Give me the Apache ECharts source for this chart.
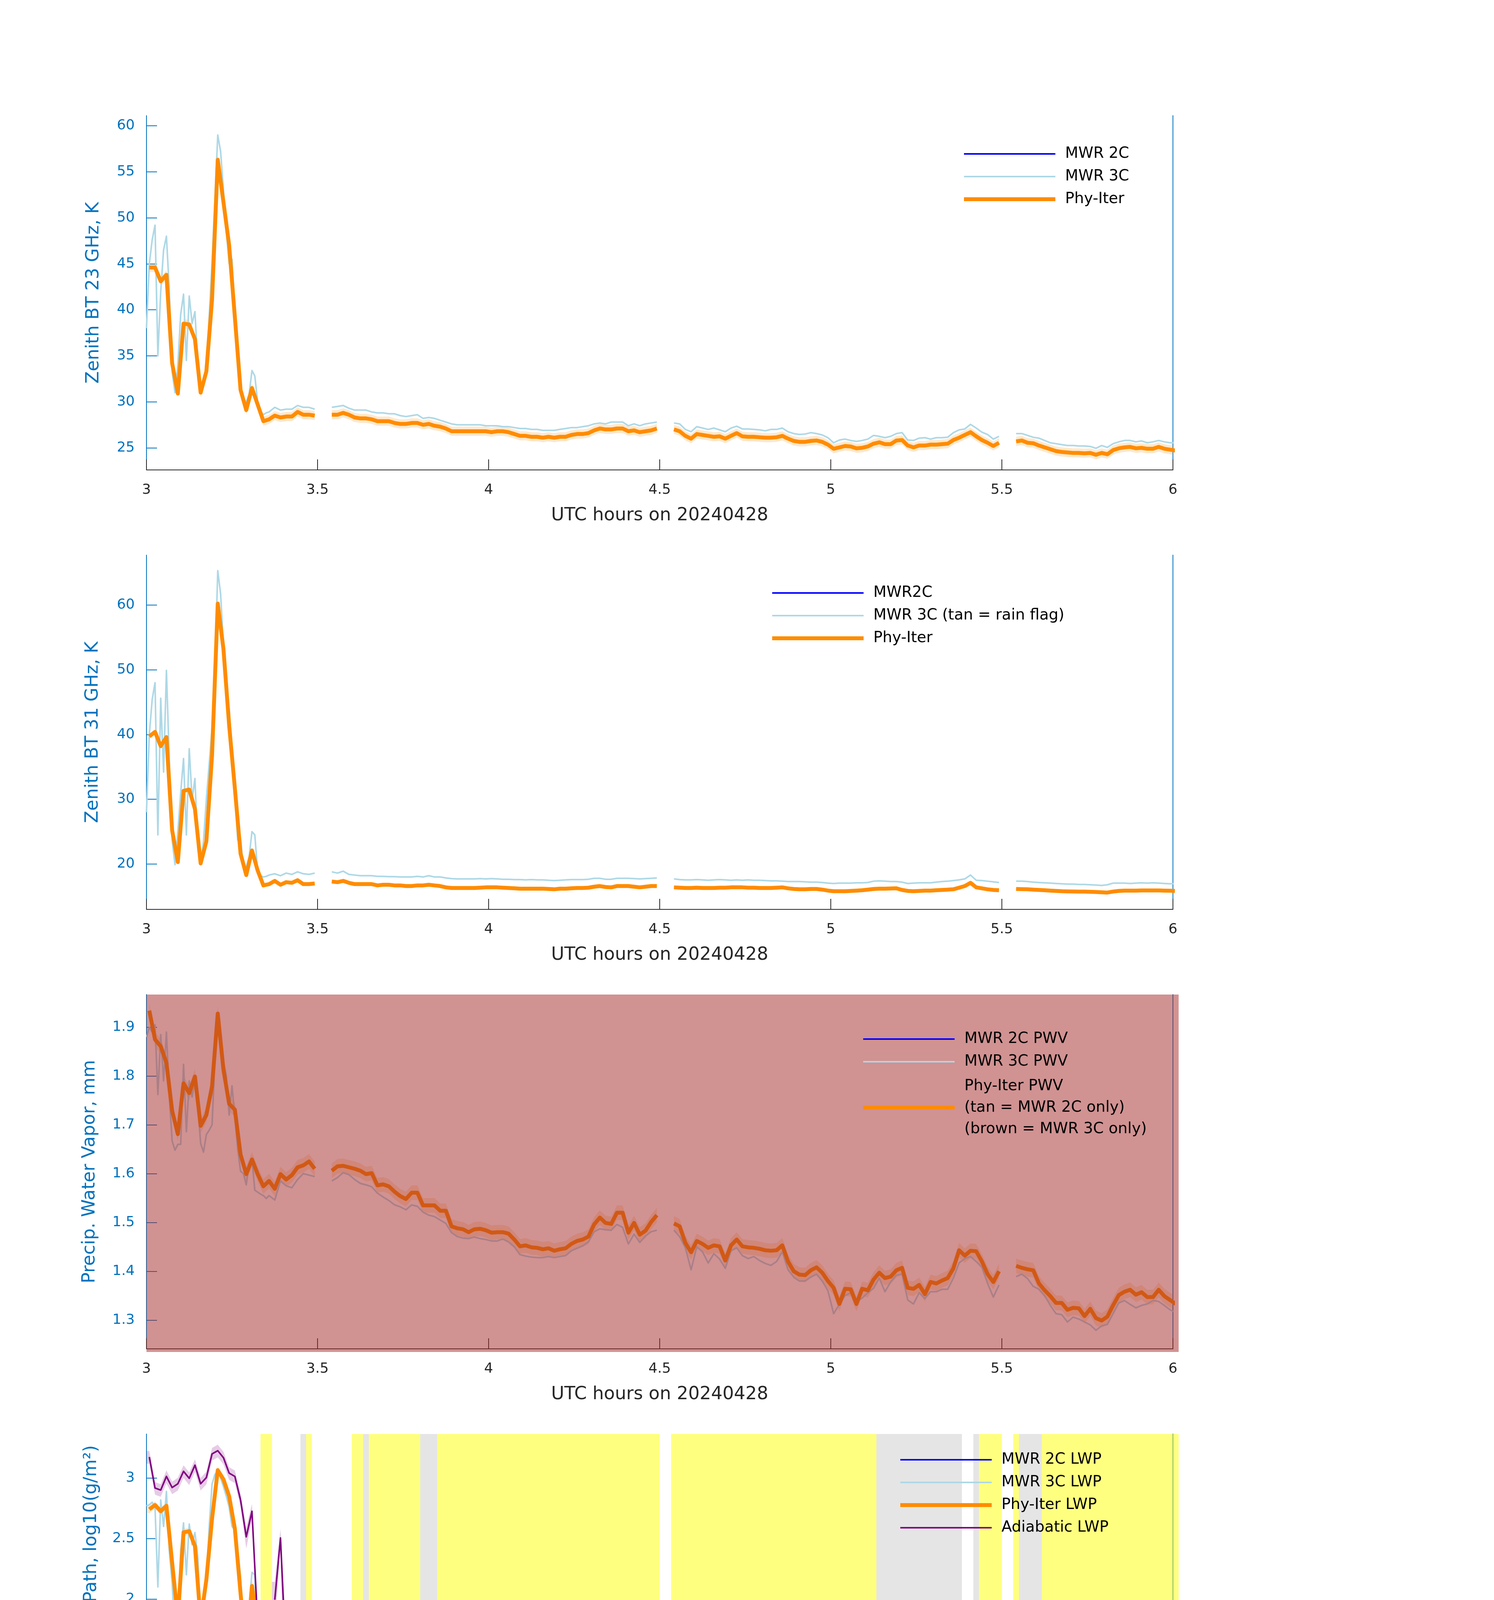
<!DOCTYPE html>
<html>
<head>
<meta charset="utf-8">
<script src="https://cdn.jsdelivr.net/npm/echarts@6/dist/echarts.min.js"></script>
<style>
html, body { margin: 0; padding: 0; background: #fff; }
#main { width: 3825px; height: 6000px; }
</style>
</head>
<body>
<div id="main"></div>
<script>
// ---------- data (1-minute samples, t = 3 + (i+0.5)/60) ----------
var nMin = 181;

// Phy-Iter 23 GHz brightness temperature, K
var bt23Phy = [
 44.6,44.6,43.1,43.8,34.2,30.9,38.5,38.4,36.8,31.0,
 33.3,41.1,56.3,51.7,47.0,39.2,31.3,29.1,31.5,29.7,
 27.9,28.1,28.5,28.3,28.4,28.4,28.9,28.6,28.6,28.5,
 null,null,28.6,28.6,28.8,28.6,28.3,28.2,28.2,28.1,
 27.9,27.9,27.9,27.7,27.6,27.6,27.7,27.7,27.5,27.6,
 27.4,27.3,27.1,26.8,26.8,26.8,26.8,26.8,26.8,26.8,
 26.7,26.8,26.8,26.7,26.5,26.3,26.3,26.2,26.2,26.1,
 26.2,26.1,26.2,26.2,26.4,26.5,26.5,26.6,26.9,27.1,
 27.0,27.0,27.1,27.1,26.8,26.9,26.7,26.8,26.9,27.1,
 null,null,27.0,26.8,26.3,26.0,26.5,26.4,26.3,26.2,
 26.25,26.0,26.3,26.6,26.25,26.2,26.2,26.15,26.1,26.1,
 26.15,26.3,26.0,25.75,25.65,25.65,25.75,25.8,25.65,25.35,
 24.9,25.05,25.2,25.15,24.95,25.0,25.15,25.45,25.6,25.4,
 25.4,25.8,25.85,25.25,25.05,25.25,25.25,25.35,25.35,25.4,
 25.45,25.85,26.1,26.4,26.7,26.25,25.85,25.55,25.2,25.55,
 null,null,25.7,25.8,25.55,25.5,25.25,25.05,24.85,24.65,
 24.55,24.5,24.45,24.45,24.4,24.45,24.25,24.45,24.3,24.75,
 24.95,25.05,25.1,24.95,25.0,24.9,24.9,25.1,24.9,24.8,
 24.7];

// MWR 3C series: 43 half-minute samples (3.000 .. 3.350), then minutes i = 21 .. 180
var bt23Mwr3c = [
 38,45.0,47.6,49.2,35.0,42,46.5,48,42.2,33.3,
 31.0,34,39.5,41.7,34.5,41.5,38.5,39.8,34,31.2,
 32,33.5,39.2,45.2,52,59.0,57.2,53,48.5,45,
 45.5,39.5,35,31.2,30.3,30.0,30.8,33.4,32.8,30.0,
 29.0,28.6,28.8,
 28.9,29.4,29.1,29.2,29.2,29.6,29.4,29.4,29.2,
 null,null,29.4,29.5,29.6,29.3,29.1,29.1,29.1,28.9,
 28.8,28.8,28.7,28.7,28.5,28.4,28.5,28.6,28.2,28.3,
 28.2,28.0,27.8,27.6,27.5,27.5,27.5,27.5,27.5,27.4,
 27.4,27.4,27.3,27.3,27.2,27.1,27.1,27.0,27.0,26.9,
 26.9,26.9,27.0,27.1,27.2,27.2,27.3,27.4,27.6,27.7,
 27.6,27.8,27.8,27.8,27.4,27.6,27.4,27.6,27.7,27.8,
 null,null,27.7,27.6,27.0,26.75,27.3,27.15,27.0,27.15,
 26.95,26.75,27.15,27.35,27.05,27.05,27.0,26.95,26.85,27.0,
 27.0,27.15,26.75,26.55,26.45,26.5,26.65,26.55,26.4,26.1,
 25.55,25.85,25.95,25.8,25.7,25.8,25.95,26.35,26.25,26.1,
 26.25,26.55,26.65,25.85,25.8,26.05,26.1,25.95,26.1,26.1,
 26.15,26.65,26.95,27.05,27.55,27.15,26.7,26.45,25.95,26.25,
 null,null,26.55,26.55,26.35,26.15,26.05,25.8,25.55,25.45,
 25.35,25.25,25.25,25.2,25.2,25.15,24.95,25.25,25.05,25.45,
 25.65,25.8,25.8,25.65,25.75,25.55,25.65,25.8,25.65,25.55,
 25.55];

// Phy-Iter 31 GHz brightness temperature, K
var bt31Phy = [
 39.7,40.4,38.2,39.6,25.2,20.3,31.3,31.5,28.5,20.1,
 23.5,36.8,60.2,53.2,41.4,31.7,21.6,18.3,22.1,19.0,
 16.7,16.9,17.4,16.8,17.2,17.1,17.5,16.9,16.9,17.0,
 null,null,17.3,17.2,17.4,17.1,16.9,16.9,16.9,16.9,
 16.7,16.8,16.8,16.7,16.7,16.6,16.6,16.7,16.7,16.8,
 16.7,16.6,16.4,16.3,16.3,16.3,16.3,16.3,16.35,16.4,
 16.4,16.4,16.35,16.3,16.25,16.2,16.2,16.2,16.2,16.2,
 16.15,16.1,16.2,16.2,16.25,16.3,16.3,16.35,16.5,16.6,
 16.45,16.4,16.6,16.6,16.6,16.5,16.4,16.5,16.6,16.6,
 null,null,16.4,16.35,16.3,16.3,16.35,16.3,16.3,16.3,
 16.35,16.35,16.4,16.4,16.4,16.35,16.35,16.3,16.3,16.3,
 16.35,16.4,16.25,16.15,16.1,16.1,16.15,16.15,16.05,15.9,
 15.8,15.8,15.8,15.85,15.9,15.95,16.05,16.15,16.2,16.2,
 16.22,16.25,16.0,15.85,15.8,15.85,15.9,15.9,15.95,16.0,
 16.05,16.1,16.35,16.6,17.1,16.4,16.25,16.1,16.0,15.95,
 null,null,16.15,16.12,16.1,16.05,16.0,15.95,15.9,15.85,
 15.8,15.78,15.76,15.75,15.74,15.72,15.68,15.64,15.6,15.75,
 15.85,15.9,15.9,15.9,15.92,15.92,15.92,15.92,15.9,15.88,
 15.85];

var bt31Mwr3c = [
 28,40,45.4,48.0,24.5,45.6,34.2,49.9,36,23.7,
 19.9,25,31,36.3,24.5,37.8,30,33.2,22.5,19.9,
 23.5,30.0,35.5,41,50,65.3,61.7,53.7,46.1,44.0,
 38,31,23.7,24.0,19.4,19.6,21.1,25.0,24.5,18.8,
 18.2,18.0,18.1,
 18.3,18.5,18.2,18.6,18.4,18.8,18.5,18.4,18.6,
 null,null,18.8,18.6,18.9,18.4,18.3,18.2,18.2,18.2,
 18.1,18.1,18.05,18.05,18.0,18.0,18.0,18.1,18.0,18.2,
 18.0,18.0,17.85,17.75,17.7,17.7,17.7,17.7,17.75,17.7,
 17.75,17.7,17.65,17.65,17.6,17.6,17.55,17.6,17.55,17.55,
 17.5,17.45,17.5,17.55,17.6,17.6,17.6,17.65,17.8,17.8,
 17.65,17.65,17.8,17.8,17.8,17.75,17.7,17.75,17.8,17.85,
 null,null,17.7,17.6,17.55,17.55,17.6,17.55,17.5,17.55,
 17.6,17.55,17.5,17.55,17.5,17.55,17.5,17.5,17.45,17.4,
 17.4,17.35,17.3,17.3,17.3,17.25,17.2,17.2,17.15,17.05,
 17.0,17.05,17.05,17.05,17.1,17.1,17.15,17.35,17.4,17.35,
 17.3,17.3,17.2,17.0,17.05,17.1,17.1,17.1,17.2,17.3,
 17.35,17.45,17.55,17.7,18.3,17.5,17.45,17.35,17.25,17.15,
 null,null,17.35,17.35,17.3,17.2,17.15,17.1,17.05,17.0,
 16.95,16.9,16.9,16.85,16.85,16.8,16.75,16.7,16.8,17.05,
 17.05,17.05,17.0,17.05,17.1,17.05,17.1,17.05,17.0,16.95,
 17.0];

// precipitable water vapour, mm
var pwvPhy = [
 1.934,1.875,1.861,1.827,1.729,1.681,1.785,1.765,1.799,1.698,
 1.720,1.779,1.928,1.813,1.743,1.731,1.639,1.599,1.629,1.599,
 1.574,1.585,1.569,1.599,1.588,1.597,1.613,1.617,1.625,1.610,
 null,null,1.606,1.615,1.616,1.613,1.610,1.606,1.599,1.601,
 1.576,1.578,1.574,1.563,1.554,1.548,1.561,1.561,1.535,1.535,
 1.535,1.524,1.524,1.492,1.488,1.486,1.480,1.486,1.487,1.484,
 1.479,1.480,1.480,1.477,1.465,1.451,1.453,1.449,1.448,1.445,
 1.447,1.442,1.445,1.447,1.456,1.462,1.465,1.471,1.496,1.510,
 1.499,1.497,1.520,1.520,1.479,1.499,1.475,1.483,1.501,1.515,
 null,null,1.498,1.492,1.458,1.439,1.462,1.456,1.448,1.453,
 1.451,1.422,1.453,1.465,1.451,1.449,1.448,1.446,1.443,1.442,
 1.443,1.453,1.420,1.400,1.393,1.392,1.402,1.408,1.397,1.380,
 1.366,1.333,1.364,1.363,1.333,1.364,1.361,1.383,1.397,1.386,
 1.389,1.402,1.407,1.366,1.364,1.372,1.353,1.378,1.375,1.381,
 1.386,1.406,1.443,1.432,1.442,1.441,1.420,1.394,1.378,1.400,
 null,null,1.411,1.407,1.404,1.402,1.375,1.361,1.349,1.335,
 1.335,1.321,1.325,1.324,1.308,1.323,1.304,1.299,1.307,1.330,
 1.351,1.358,1.362,1.352,1.357,1.347,1.347,1.362,1.349,1.341,
 1.333];

var pwvMwr3c = [
 1.88,1.90,1.89,1.905,1.762,1.885,1.79,1.89,1.76,1.667,
 1.648,1.66,1.66,1.824,1.686,1.79,1.757,1.79,1.74,1.662,
 1.644,1.68,1.689,1.70,1.835,1.92,1.886,1.83,1.80,1.72,
 1.78,1.715,1.65,1.605,1.60,1.577,1.62,1.63,1.566,1.562,
 1.558,1.555,1.549,
 1.555,1.546,1.585,1.575,1.571,1.588,1.600,1.597,1.594,
 null,null,1.585,1.592,1.602,1.598,1.588,1.580,1.577,1.573,
 1.560,1.552,1.545,1.536,1.532,1.526,1.536,1.533,1.521,1.515,
 1.512,1.505,1.498,1.479,1.471,1.468,1.467,1.470,1.467,1.465,
 1.462,1.462,1.466,1.460,1.450,1.434,1.431,1.429,1.428,1.428,
 1.430,1.428,1.430,1.432,1.442,1.447,1.452,1.460,1.481,1.487,
 1.485,1.484,1.496,1.490,1.456,1.476,1.459,1.472,1.481,1.484,
 null,null,1.484,1.471,1.448,1.403,1.450,1.440,1.417,1.436,
 1.425,1.406,1.442,1.448,1.432,1.426,1.430,1.422,1.416,1.412,
 1.420,1.440,1.403,1.388,1.380,1.380,1.388,1.394,1.380,1.360,
 1.313,1.332,1.350,1.356,1.338,1.345,1.356,1.365,1.386,1.358,
 1.378,1.392,1.394,1.341,1.333,1.356,1.344,1.358,1.358,1.363,
 1.363,1.386,1.417,1.426,1.430,1.420,1.408,1.375,1.347,1.372,
 null,null,1.389,1.394,1.385,1.369,1.363,1.350,1.330,1.313,
 1.311,1.296,1.306,1.302,1.296,1.290,1.279,1.288,1.291,1.313,
 1.335,1.340,1.332,1.325,1.330,1.333,1.340,1.338,1.330,1.321,
 1.315];

// log10 liquid water path
var lwpMwr3c = [
 2.77,2.78,2.80,2.76,2.10,2.82,2.60,2.89,2.40,2.13,
 1.70,1.82,2.40,2.63,2.20,2.62,2.45,2.55,2.35,1.78,
 1.90,2.15,2.60,2.95,3.03,3.06,3.00,2.93,2.85,2.76,
 2.60,2.57,2.40,2.19,1.70,1.60,1.95,2.22,2.20,1.40,
 1.33,1.24,1.28,
 1.30,1.62,1.30,1.28,1.35,1.33,1.28,1.30,1.36,
 null,null,1.37,1.34,1.30,1.40,1.26,1.21,1.25,1.24,
 1.22,1.25,1.23,1.22,1.24,1.22,1.20,1.23,1.25,1.39,
 1.25,1.24,1.22,1.14,1.18,1.16,1.13,1.16,1.16,1.18,
 1.20,1.19,1.18,1.20,1.16,1.15,1.12,1.15,1.16,1.13,
 1.15,1.16,1.03,1.13,1.12,1.17,1.18,1.19,1.20,1.25,
 1.23,1.16,1.15,1.21,1.25,1.23,1.24,1.19,1.14,1.22,
 null,null,1.22,1.23,1.22,1.17,1.13,1.17,1.21,1.20,
 1.19,1.18,1.19,1.20,1.23,1.21,1.19,1.18,1.17,1.12,
 1.22,1.20,1.19,1.19,1.24,1.19,1.18,1.22,1.21,1.22,
 1.16,1.14,1.16,1.17,1.14,1.15,1.18,1.26,1.28,1.28,
 1.23,1.22,1.25,1.20,1.14,1.20,1.22,1.18,1.13,1.22,
 1.24,1.25,1.31,1.38,1.40,1.30,1.24,1.22,1.19,1.17,
 null,null,1.25,1.24,1.22,1.21,1.18,1.17,1.14,1.18,
 1.20,1.15,1.18,1.20,1.16,1.12,1.17,1.20,1.13,1.22,
 1.20,1.23,1.22,1.19,1.25,1.23,1.21,1.20,1.22,1.20,
 1.19];

// Phy-Iter and adiabatic LWP exist only in short runs: [first minute index, values]
var phyLwpRuns = [
 [0, [2.742,2.777,2.726,2.771,2.303,1.840,2.551,2.561,2.437,1.819,
      2.159,2.664,3.066,2.990,2.850,2.582,2.046,1.541,2.108,1.768]],
 [22, [1.314,0.562,1.026,0.974,1.273,0.675]],
 [29, [0.896]],
 [32, [1.108,0.861,1.160,0.912]],
 [38, [0.758]],
 [48, [0.820,0.953,0.840]],
 [136, [0.960]],
 [141, [1.011]],
 [143, [1.180,1.397,1.046]]
];
// uncertainty of Phy-Iter LWP, g/m2
var phyLwpUnc = [
 [0, [39,42,37,41,14,20,25,25,19,20,10,32,81,68,50,27,8,15,15,30]],
 [22, [22,22,22,22,22,22]],
 [29, [10]],
 [32, [20,20,20,20]],
 [38, [20]],
 [48, [25,25,25]],
 [136, [25]],
 [141, [25]],
 [143, [25,25,25]]
];
var adiLwpRuns = [
 [0, [3.175,2.918,2.901,3.014,2.922,2.953,3.056,2.998,3.107,2.953,
      3.004,3.2,3.227,3.169,3.041,3.014,2.819,2.514,2.726,1.798]],
 [22, [1.994,2.505,1.469,1.664,1.819,1.149]],
 [29, [1.417]],
 [32, [1.427,1.654,1.376,1.463]],
 [38, [1.166]],
 [48, [1.149,1.149,1.15]],
 [136, [1.170]],
 [141, [1.160]],
 [143, [1.263,1.685,1.149]]
];
var adiLwpUnc = [
 [0, [180,100,95,125,100,108,137,120,153,108,121,190,202,177,132,124,80,65,80,15]],
 [22, [40,60,25,25,25,18]],
 [29, [23]],
 [32, [22,22,22,22]],
 [38, [12]],
 [48, [14,14,14]],
 [136, [14]],
 [141, [14]],
 [143, [25,25,25]]
];

// MWR Phy-Iter data quality flag, one per minute
var dqFlag = [
 0,0,0,0,0,0,0,0,0,0, 0,0,6,6,0,0,0,0,0,0,
 5,5,0,0,0,0,0,4,5,0, 1,1,0,0,0,0,5,5,4,5,
 5,5,5,5,5,5,5,5,4,4, 4,5,5,5,5,5,5,5,5,5,
 5,5,5,5,5,5,5,5,5,5, 5,5,5,5,5,5,5,5,5,5,
 5,5,5,5,5,5,5,5,5,5, 1,1,5,5,5,5,5,5,5,5,
 5,5,5,5,5,5,5,5,5,5, 5,5,5,5,5,5,5,5,5,5,
 5,5,5,5,5,5,5,5,4,4, 4,4,4,4,4,4,4,4,4,4,
 4,4,4,0,0,4,5,5,5,5, 1,1,5,3,3,3,3,5,5,5,
 5,5,5,5,5,5,5,5,5,5, 5,5,5,5,5,5,5,5,5,5,
 5];

// uncertainties of the Phy-Iter brightness temperatures / PWV
var bt23Err = 0.5, bt31Err = 0.25, pwvErr = 0.015;

// axes
var yMinV = [22.6, 13.0, 1.241, 0.434, -0.5];
var yMaxV = [61.1, 67.7, 1.967, 3.365, 11.5];
var yTickV = [
 [25,30,35,40,45,50,55,60],
 [20,30,40,50,60],
 [1.3,1.4,1.5,1.6,1.7,1.8,1.9],
 [0.5,1,1.5,2,2.5,3],
 [0,2,4,6,8,10]
];
var yNames = ['Zenith BT 23 GHz, K', 'Zenith BT 31 GHz, K', 'Precip. Water Vapor, mm',
              'log10 Liquid Water Path, log10(g/m\u00b2)', 'MWR Phy Iter DQ Flag'];

// ---------- layout / style ----------
var FONT = 'DejaVu Sans';
var AXC = '#262626', YC = '#0072BD';
var ORANGE = '#FF8C00', LBLUE = '#ADD8E6', BLUE = '#0000FF', PURPLE = '#800080';
var gridTop = [296, 1421, 2546, 3671, 4796];
var yNameGap = [112, 114, 122, 118, 112];

// time axes
var tMin = [];
for (var i = 0; i < nMin; i++) tMin.push(3 + (i + 0.5) / 60);
var t3c = [];
for (var k = 0; k <= 42; k++) t3c.push(3 + k / 120);
for (var i = 21; i < nMin; i++) t3c.push(3 + (i + 0.5) / 60);

function expandRuns(runs) {
  var a = [];
  for (var i = 0; i < nMin; i++) a.push(null);
  runs.forEach(function (r) { r[1].forEach(function (v, j) { a[r[0] + j] = v; }); });
  return a;
}
var phyLwp = expandRuns(phyLwpRuns), phyUnc = expandRuns(phyLwpUnc);
var adiLwp = expandRuns(adiLwpRuns), adiUnc = expandRuns(adiLwpUnc);

function shift(vs, e) { return vs.map(function (v) { return v == null ? null : v + e; }); }
function logBound(vs, unc, sign, floor) {
  return vs.map(function (v, i) {
    if (v == null) return null;
    var lin = Math.pow(10, v) + sign * unc[i];
    return lin > 0 ? Math.max(Math.log10(lin), floor) : floor;
  });
}

function lineSeries(g, name, ts, vs, color, width) {
  return {
    type: 'line', name: name, xAxisIndex: g, yAxisIndex: 2 * g,
    data: ts.map(function (t, i) { return [t, vs[i]]; }),
    symbol: 'none', showSymbol: false, connectNulls: false, silent: true,
    lineStyle: { color: color, width: width, join: 'round' },
    itemStyle: { color: color }, z: 2
  };
}
function emptySeries(g, name, color, width) {
  return { type: 'line', name: name, xAxisIndex: g, yAxisIndex: 2 * g, data: [],
    symbol: 'none', lineStyle: { color: color, width: width }, itemStyle: { color: color } };
}
// shaded uncertainty band, one polygon per run of valid samples
function bandSeries(g, ts, vs, lo, hi, fill, pad) {
  var runs = [], cur = null;
  vs.forEach(function (v, i) {
    if (v == null) { if (cur) { runs.push(cur); cur = null; } return; }
    if (!cur) cur = [];
    cur.push(i);
  });
  if (cur) runs.push(cur);
  return {
    type: 'custom', xAxisIndex: g, yAxisIndex: 2 * g, silent: true, clip: true, z: 2,
    data: runs.map(function (r) { return [ts[r[0]], vs[r[0]]]; }),
    renderItem: function (params, api) {
      var r = runs[params.dataIndex], up = [], dn = [];
      var n = r.length;
      up.push(api.coord([ts[r[0]] - pad, hi[r[0]]]));
      dn.push(api.coord([ts[r[0]] - pad, lo[r[0]]]));
      r.forEach(function (i) {
        up.push(api.coord([ts[i], hi[i]]));
        dn.push(api.coord([ts[i], lo[i]]));
      });
      up.push(api.coord([ts[r[n - 1]] + pad, hi[r[n - 1]]]));
      dn.push(api.coord([ts[r[n - 1]] + pad, lo[r[n - 1]]]));
      return { type: 'polygon', shape: { points: up.concat(dn.reverse()) }, style: { fill: fill } };
    }
  };
}
// translucent full-height shading on top of the lines
function shadeSeries(g, bands) {
  return {
    type: 'custom', xAxisIndex: g, yAxisIndex: 2 * g, silent: true, clip: false, z: 3,
    data: bands.map(function (b) { return [b[0], yMinV[g]]; }),
    renderItem: function (params, api) {
      var b = bands[params.dataIndex], cs = params.coordSys;
      var x0 = api.coord([b[0], yMinV[g]])[0], x1 = api.coord([b[1], yMinV[g]])[0];
      return { type: 'rect', shape: { x: x0, y: cs.y, width: x1 - x0, height: cs.height + 8 },
               style: { fill: b[2] } };
    }
  };
}
var XMARK = 'path://M0,2.4L2.4,0L5,2.6L7.6,0L10,2.4L7.4,5L10,7.6L7.6,10L5,7.4L2.4,10L0,7.6L2.6,5Z';
function isolatedSeries(g, ts, vs, color) {
  var pts = [];
  vs.forEach(function (v, i) {
    if (v != null && (i === 0 || vs[i - 1] == null) && (i === vs.length - 1 || vs[i + 1] == null))
      pts.push([ts[i], v]);
  });
  return { type: 'scatter', xAxisIndex: g, yAxisIndex: 2 * g, data: pts, symbol: XMARK,
    symbolSize: 19, itemStyle: { color: color }, silent: true, z: 2 };
}

// ---------- axes ----------
var grids = [], xAxes = [], yAxes = [];
for (var g = 0; g < 5; g++) {
  grids.push({ left: 375, width: 2628, top: gridTop[g], height: 907, containLabel: false });
  xAxes.push({
    type: 'value', gridIndex: g, min: 3, max: 6, interval: 0.5,
    name: 'UTC hours on 20240428', nameLocation: 'middle', nameGap: 94,
    nameTextStyle: { fontSize: 46, color: AXC, fontFamily: FONT },
    axisLine: { show: true, onZero: false, lineStyle: { color: AXC, width: 2 } },
    axisTick: { show: true, inside: true, length: 27, lineStyle: { color: AXC, width: 2 } },
    axisLabel: { fontSize: 36, color: AXC, margin: 34, fontFamily: FONT },
    splitLine: { show: false }
  });
  yAxes.push({
    type: 'value', gridIndex: g, position: 'left', min: yMinV[g], max: yMaxV[g],
    name: yNames[g], nameLocation: 'middle', nameGap: yNameGap[g],
    nameTextStyle: { fontSize: 46, color: YC, fontFamily: FONT },
    axisLine: { show: true, onZero: false, lineStyle: { color: YC, width: 2 } },
    axisTick: { show: true, inside: true, length: 27, customValues: yTickV[g],
                lineStyle: { color: YC, width: 2 } },
    axisLabel: { customValues: yTickV[g], fontSize: 36, color: YC, margin: 30, fontFamily: FONT },
    splitLine: { show: false }
  });
  yAxes.push({
    type: 'value', gridIndex: g, position: 'right', min: yMinV[g], max: yMaxV[g],
    axisLine: { show: true, onZero: false, lineStyle: { color: YC, width: 2 } },
    axisTick: { show: false }, axisLabel: { show: false }, splitLine: { show: false }
  });
}

// ---------- series ----------
var series = [];
// panel 1: 23 GHz
series.push(emptySeries(0, 'MWR 2C', BLUE, 4));
series.push(bandSeries(0, tMin, bt23Phy, shift(bt23Phy, -bt23Err), shift(bt23Phy, bt23Err), 'rgba(255,140,0,0.2)', 0));
series.push(lineSeries(0, 'MWR 3C', t3c, bt23Mwr3c, LBLUE, 4));
series.push(lineSeries(0, 'Phy-Iter', tMin, bt23Phy, ORANGE, 10));
// panel 2: 31 GHz
series.push(emptySeries(1, 'MWR2C', BLUE, 4));
series.push(bandSeries(1, tMin, bt31Phy, shift(bt31Phy, -bt31Err), shift(bt31Phy, bt31Err), 'rgba(255,140,0,0.2)', 0));
series.push(lineSeries(1, 'MWR 3C (tan = rain flag)', t3c, bt31Mwr3c, LBLUE, 4));
series.push(lineSeries(1, 'Phy-Iter', tMin, bt31Phy, ORANGE, 10));
// panel 3: PWV
var pwvPhyName = 'Phy-Iter PWV\n(tan = MWR 2C only)\n(brown = MWR 3C only)';
series.push(emptySeries(2, 'MWR 2C PWV', BLUE, 4));
series.push(bandSeries(2, tMin, pwvPhy, shift(pwvPhy, -pwvErr), shift(pwvPhy, pwvErr), 'rgba(255,140,0,0.2)', 0));
series.push(lineSeries(2, 'MWR 3C PWV', t3c, pwvMwr3c, LBLUE, 4));
series.push(lineSeries(2, pwvPhyName, tMin, pwvPhy, ORANGE, 10));
series.push(shadeSeries(2, [[tMin[0] - 1 / 120, tMin[nMin - 1] + 1 / 120, 'rgba(165,42,42,0.51)']]));
// panel 4: LWP
series.push(emptySeries(3, 'MWR 2C LWP', BLUE, 4));
series.push(lineSeries(3, 'MWR 3C LWP', t3c, lwpMwr3c, LBLUE, 4));
series.push(bandSeries(3, tMin, phyLwp, logBound(phyLwp, phyUnc, -1, yMinV[3]), logBound(phyLwp, phyUnc, 1, yMinV[3]),
                       'rgba(255,140,0,0.2)', 1 / 120));
series.push(bandSeries(3, tMin, adiLwp, logBound(adiLwp, adiUnc, -1, yMinV[3]), logBound(adiLwp, adiUnc, 1, yMinV[3]),
                       'rgba(128,0,128,0.2)', 1 / 120));
series.push(lineSeries(3, 'Phy-Iter LWP', tMin, phyLwp, ORANGE, 10));
series.push(lineSeries(3, 'Adiabatic LWP', tMin, adiLwp, PURPLE, 4));
series.push(isolatedSeries(3, tMin, phyLwp, ORANGE));
series.push(isolatedSeries(3, tMin, adiLwp, PURPLE));
// flag shading: 5 -> yellow, 3/4 -> grey
var flagBands = [];
(function () {
  function cls(f) { return f === 5 ? 'rgba(255,255,0,0.5)' : (f === 3 || f === 4 ? 'rgba(204,204,204,0.5)' : null); }
  var start = 0;
  for (var i = 1; i <= nMin; i++) {
    if (i === nMin || cls(dqFlag[i]) !== cls(dqFlag[start])) {
      var c = cls(dqFlag[start]);
      if (c) flagBands.push([tMin[start] - 1 / 120, tMin[i - 1] + 1 / 120, c]);
      start = i;
    }
  }
})();
series.push(shadeSeries(3, flagBands));
// panel 5: DQ flag
series.push({
  type: 'scatter', xAxisIndex: 4, yAxisIndex: 8, symbol: 'circle', symbolSize: 9, clip: false,
  data: tMin.map(function (t, i) { return [t, dqFlag[i]]; }),
  itemStyle: { color: ORANGE }, silent: true
});

// ---------- legends ----------
function item(name, color, width, extra) {
  var o = { name: name, itemStyle: { opacity: 0 }, lineStyle: { color: color, width: width, opacity: 1 } };
  if (extra) o.textStyle = extra;
  return o;
}
function legend(left, top, data) {
  return {
    orient: 'vertical', left: left, top: top, padding: 0, itemWidth: 234, itemHeight: 46, itemGap: 12,
    selectedMode: false, data: data,
    textStyle: { fontSize: 39, color: '#000', fontFamily: FONT, lineHeight: 46, padding: [0, 0, 0, 20] }
  };
}
var legends = [
  legend(2463, 371, [item('MWR 2C', BLUE, 4), item('MWR 3C', LBLUE, 4), item('Phy-Iter', ORANGE, 10)]),
  legend(1972, 1495, [item('MWR2C', BLUE, 4), item('MWR 3C (tan = rain flag)', LBLUE, 4), item('Phy-Iter', ORANGE, 10)]),
  legend(2205, 2637, [item('MWR 2C PWV', BLUE, 4), item('MWR 3C PWV', LBLUE, 4),
                      item(pwvPhyName, ORANGE, 10, { lineHeight: 55 })]),
  legend(2300, 3714, [item('MWR 2C LWP', BLUE, 4), item('MWR 3C LWP', LBLUE, 4),
                      item('Phy-Iter LWP', ORANGE, 10), item('Adiabatic LWP', PURPLE, 4)])
];

var chart = echarts.init(document.getElementById('main'), null, { renderer: 'canvas' });
chart.setOption({
  animation: false,
  backgroundColor: '#fff',
  grid: grids,
  xAxis: xAxes,
  yAxis: yAxes,
  legend: legends,
  series: series
});
</script>
</body>
</html>
